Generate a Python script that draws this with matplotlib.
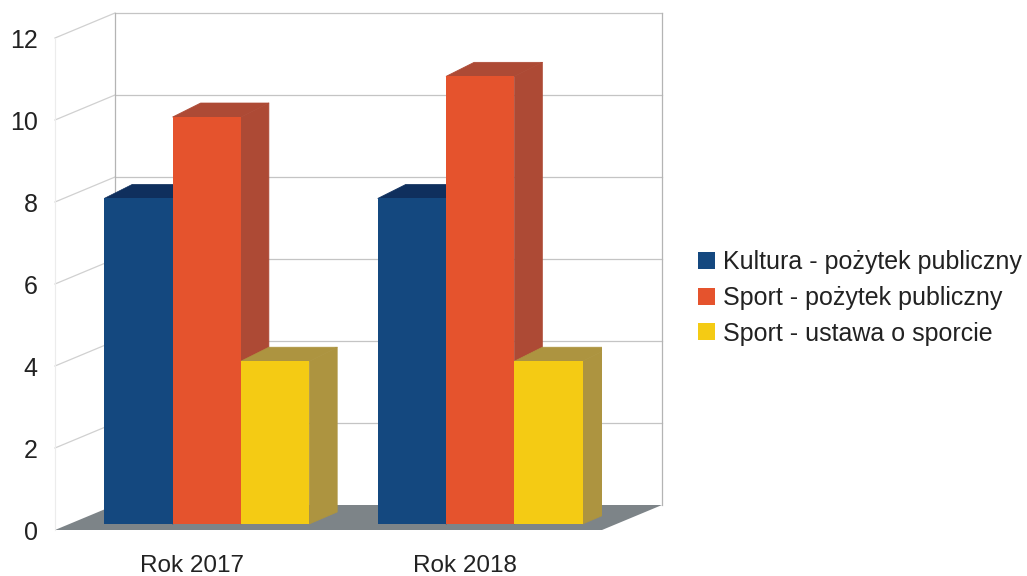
import matplotlib
matplotlib.use('Agg')
import matplotlib.pyplot as plt
from matplotlib.patches import Patch, Polygon
import numpy as np

plt.rcParams['font.family'] = ['Liberation Sans', 'DejaVu Sans']

# Data
categories = ['Rok 2017', 'Rok 2018']
kultura = [8, 8]
sport_pp = [10, 11]
sport_ustawa = [4, 4]
series_names = ['Kultura - pożytek publiczny', 'Sport - pożytek publiczny', 'Sport - ustawa o sporcie']
y_ticks = [0, 2, 4, 6, 8, 10, 12]

# front, top, side colours
colors = [('#14487f', '#0f2f5d', '#0f2f5d'),
          ('#e5532d', '#ad4a35', '#ad4a35'),
          ('#f4cb14', '#ad9440', '#ad9440')]

W, H = 1027, 576
fig = plt.figure(figsize=(W / 100, H / 100), dpi=100)
# front plane of the 3d box
ax = fig.add_axes([55 / W, 1 - 530 / H, 547 / W, 492 / H])
ax.set_xlim(-0.5, 1.5)
ax.set_ylim(0, 12)

x_unit = 547 / 2
y_unit = 492 / 12
depth_x = 60 / x_unit
depth_y = 25 / y_unit
x_left, x_right = ax.get_xlim()

# floor
ax.add_patch(Polygon([(x_left, 0), (x_left + depth_x, depth_y), (x_right + depth_x, depth_y), (x_right, 0)],
                     closed=True, facecolor='#7d8488', edgecolor='none', clip_on=False, zorder=1))

# walls and gridlines
grid_color = '#c4c4c4'
for t in y_ticks[1:]:
    ax.plot([x_left + depth_x, x_right + depth_x], [t + depth_y, t + depth_y], color=grid_color, lw=0.9, clip_on=False, zorder=1)
    ax.plot([x_left, x_left + depth_x], [t, t + depth_y], color='#d0d0d0', lw=0.9, clip_on=False, zorder=1)
ax.plot([x_left + depth_x] * 2, [depth_y, 12 + depth_y], color='#b4b4b4', lw=0.9, clip_on=False, zorder=1)
ax.plot([x_right + depth_x] * 2, [depth_y, 12 + depth_y], color='#b4b4b4', lw=0.9, clip_on=False, zorder=1)
ax.plot([x_left, x_left], [0, 12], color='#ececec', lw=0.8, clip_on=False, zorder=1)

# bars, the front face sits part way into the depth
bar_w = 68.3 / x_unit
dx = 28 / x_unit
dy_bottom = 12 / y_unit
dy_top = 14 / y_unit
shift_x = 15 / x_unit
shift_y = 6 / y_unit
bar_scale = 40.7 / 41  # bars are a touch smaller than the front axis
x = np.arange(len(categories))
all_series = [kultura, sport_pp, sport_ustawa]

for i, vals in enumerate(all_series):
    front, top, side = colors[i]
    for j, v in enumerate(vals):
        left = x[j] + shift_x + (i - 1.5) * bar_w
        right = left + bar_w
        y0 = shift_y
        y1 = shift_y + v * bar_scale
        z = 3 + i
        ax.bar(left, v * bar_scale, width=bar_w, bottom=y0, align='edge', color=front, zorder=z + 0.5)
        ax.add_patch(Polygon([(left, y1), (left + dx, y1 + dy_top), (right + dx, y1 + dy_top), (right, y1)],
                             closed=True, facecolor=top, edgecolor=top, lw=0.5, joinstyle='round', zorder=z))
        ax.add_patch(Polygon([(right, y0), (right + dx, y0 + dy_bottom), (right + dx, y1 + dy_top), (right, y1)],
                             closed=True, facecolor=side, edgecolor=side, lw=0.5, joinstyle='round', zorder=z))

for s in ax.spines.values():
    s.set_visible(False)
ax.patch.set_alpha(0)
ax.set_xticks(x)
ax.set_xticklabels(categories, fontsize=17.5, color='#222222')
ax.set_yticks(y_ticks)
ax.set_yticklabels([str(t) for t in y_ticks], fontsize=18, color='#222222')
ax.tick_params(axis='y', length=0, pad=12.5)
ax.tick_params(axis='x', length=0, pad=18)

handles = [Patch(facecolor=c[0], edgecolor='none') for c in colors]
fig.legend(handles, series_names, loc='center left', bbox_to_anchor=(690 / W, 1 - 298 / H),
           frameon=False, fontsize=18, labelcolor='#222222', handlelength=0.68, handleheight=0.68,
           handletextpad=0.33, labelspacing=0.46, borderpad=0.3, borderaxespad=0)

fig.savefig('out.png', dpi=100)
